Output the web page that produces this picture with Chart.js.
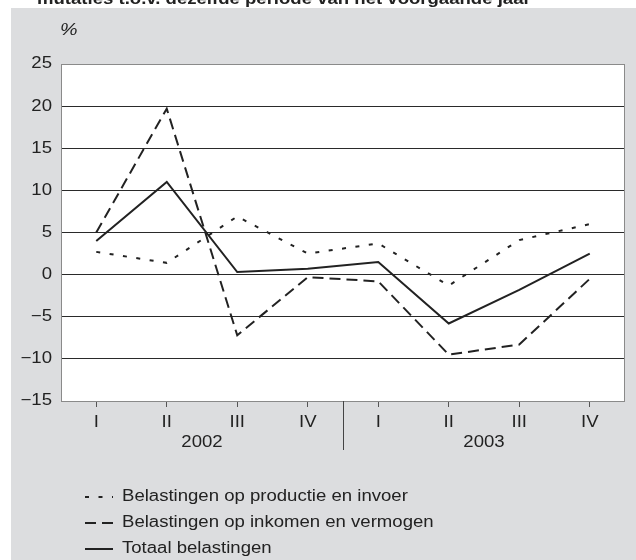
<!DOCTYPE html>
<html>
<head>
<meta charset="utf-8">
<script src="https://cdn.jsdelivr.net/npm/chart.js@4.4.1/dist/chart.umd.min.js"></script>
<style>
  html, body { margin: 0; padding: 0; background: #fff; }
  #wrap { position: relative; width: 636px; height: 560px; }
</style>
</head>
<body>
<div id="wrap"><canvas id="taxChart"></canvas></div>
<script>
const quarters = ["I", "II", "III", "IV", "I", "II", "III", "IV"];
const years = ["2002", "2003"];
const productieInvoer = [2.7, 1.4, 6.9, 2.5, 3.7, -1.3, 4.1, 6.0];
const inkomenVermogen = [5.0, 19.7, -7.2, -0.3, -0.8, -9.5, -8.3, -0.5];
const totaal = [4.0, 11.0, 0.3, 0.7, 1.5, -5.8, -1.8, 2.5];
const seriesNames = [
  "Belastingen op productie en invoer",
  "Belastingen op inkomen en vermogen",
  "Totaal belastingen",
];
const titleText = "mutaties t.o.v. dezelfde periode van het voorgaande jaar";
const unitText = "%";

const FONT = "'Liberation Sans', Arial, sans-serif";
const INK = "#222";
const PANEL = "#dcdddf";
const SX = 1.16; // the source lettering is a bit wider than Arial

const minus = (v) => (v < 0 ? "\u2212" + Math.abs(v) : String(v));

function wideText(ctx, text, x, y, align) {
  ctx.save();
  ctx.translate(x, y);
  ctx.scale(SX, 1);
  ctx.textAlign = align;
  ctx.fillText(text, 0, 0);
  ctx.restore();
}

// background panel, title, frame, tick texts, year labels and legend
const decor = {
  id: "decor",
  beforeDraw(chart) {
    const { ctx, chartArea: a } = chart;
    ctx.save();
    ctx.fillStyle = "#fff";
    ctx.fillRect(0, 0, chart.width, chart.height);
    ctx.fillStyle = PANEL;
    ctx.fillRect(11, 8, chart.width - 11, chart.height - 8);
    ctx.fillStyle = "#fff";
    ctx.fillRect(a.left, a.top, a.right - a.left, a.bottom - a.top);

    ctx.fillStyle = INK;
    ctx.font = "bold 16px " + FONT;
    ctx.textBaseline = "alphabetic";
    wideText(ctx, titleText, 37, 4, "left");

    ctx.font = "italic 17px " + FONT;
    ctx.textBaseline = "middle";
    wideText(ctx, unitText, 60, 30, "left");
    ctx.restore();
  },
  afterDraw(chart) {
    const { ctx, chartArea: a } = chart;
    const x = chart.scales.x;
    const y = chart.scales.y;
    ctx.save();
    ctx.strokeStyle = "#8a8a8a";
    ctx.lineWidth = 1;
    ctx.strokeRect(a.left + 0.5, a.top + 0.5, a.right - a.left - 1, a.bottom - a.top);

    // divider between the years
    const mid = (x.getPixelForValue(3) + x.getPixelForValue(4)) / 2;
    ctx.strokeStyle = "#444";
    ctx.beginPath();
    ctx.moveTo(Math.round(mid) + 0.5, a.bottom);
    ctx.lineTo(Math.round(mid) + 0.5, 450);
    ctx.stroke();

    ctx.fillStyle = INK;
    ctx.font = "16px " + FONT;
    ctx.textBaseline = "middle";

    y.ticks.forEach((t) => {
      wideText(ctx, minus(t.value), a.left - 9, y.getPixelForValue(t.value), "right");
    });
    x.ticks.forEach((t, i) => {
      wideText(ctx, x.getLabelForValue(t.value), x.getPixelForTick(i), 423, "center");
    });
    years.forEach((yr, i) => {
      const cx = (x.getPixelForValue(i * 4) + x.getPixelForValue(i * 4 + 3)) / 2;
      wideText(ctx, yr, cx, 443, "center");
    });

    // legend
    chart.data.datasets.forEach((ds, i) => {
      const ly = 497 + i * 26;
      ctx.strokeStyle = ds.borderColor;
      ctx.lineWidth = 2;
      ctx.setLineDash(ds.borderDash || []);
      ctx.beginPath();
      ctx.moveTo(85, ly);
      ctx.lineTo(113, ly);
      ctx.stroke();
      ctx.setLineDash([]);
      wideText(ctx, ds.label, 122, ly, "left");
    });
    ctx.restore();
  },
};

const line = (label, data, dash) => ({
  label,
  data,
  borderColor: INK,
  borderWidth: 2,
  borderDash: dash,
  pointRadius: 0,
  tension: 0,
  fill: false,
});

new Chart(document.getElementById("taxChart"), {
  type: "line",
  data: {
    labels: quarters,
    datasets: [
      line(seriesNames[0], productieInvoer, [4, 9.5]),
      line(seriesNames[1], inkomenVermogen, [11, 6]),
      line(seriesNames[2], totaal, []),
    ],
  },
  options: {
    responsive: true,
    maintainAspectRatio: false,
    animation: false,
    layout: { padding: { top: 64, right: 11, bottom: 119, left: 11 } },
    plugins: { legend: { display: false }, tooltip: { enabled: false } },
    scales: {
      x: {
        type: "category",
        offset: true,
        border: { display: false },
        grid: {
          offset: false,
          drawOnChartArea: false,
          drawTicks: true,
          tickLength: 6,
          color: "#555",
        },
        ticks: { display: false, autoSkip: false, maxRotation: 0 },
        afterFit: (axis) => { axis.height = 40; },
      },
      y: {
        min: -15,
        max: 25,
        border: { display: false },
        grid: {
          drawTicks: false,
          color: (c) => (c.tick.value === 25 || c.tick.value === -15 ? "rgba(0,0,0,0)" : "#2a2a2a"),
        },
        ticks: { display: false, stepSize: 5 },
        afterFit: (axis) => { axis.width = 50; },
      },
    },
  },
  plugins: [decor],
});
</script>
</body>
</html>
